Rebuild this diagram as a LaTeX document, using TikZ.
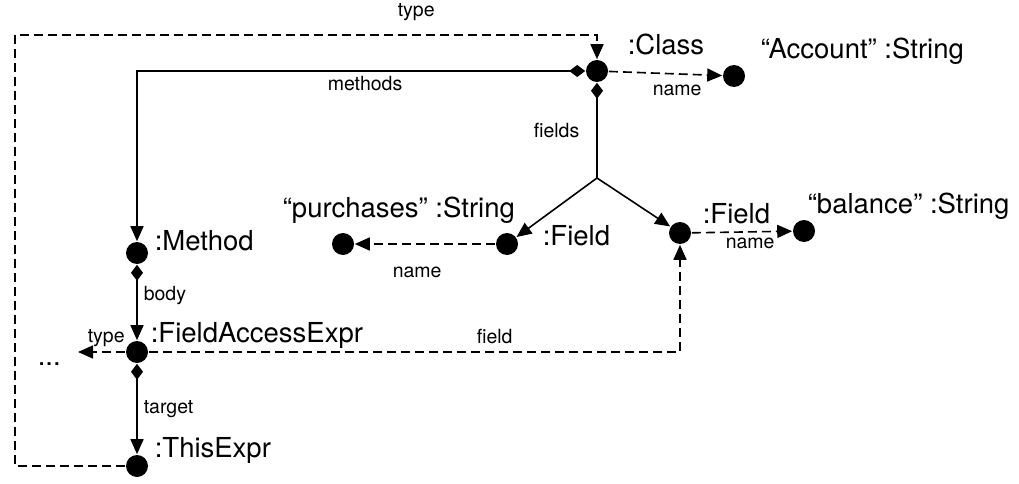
\documentclass[tikz,border=0pt]{standalone}
\usepackage{fontspec}
\setmainfont{TeX Gyre Heros}
\usetikzlibrary{arrows.meta,positioning}

\tikzset{
  dot/.style={circle, fill, inner sep=0pt, minimum size=22pt},
  obj/.style={inner sep=0pt, anchor=base west, font=\fontsize{27.5}{30}\selectfont},
  lbl/.style={inner sep=0pt, anchor=base west, font=\fontsize{19.5}{21}\selectfont},
  tip/.style={-{Triangle[length=15pt,width=13pt]}},
  comp/.style={{Diamond[length=16pt,width=12pt]}-{Triangle[length=15pt,width=13pt]}},
  dsh/.style={dash pattern=on 9pt off 5pt}
}

\begin{document}
\begin{tikzpicture}[x=1pt, y=-1pt, line width=1.6pt, node distance=10pt, on grid]
\useasboundingbox (0,0) rectangle (1019,484);

\node[dot] (cls) at (597,71) {};
\node[dot] (acc) at (734,76) {};
\node[dot] (fld1) at (507,244) {};
\node[dot, left=164pt of fld1] (str1) {};
\node[dot] (fld2) at (680,233) {};
\node[dot] (str2) at (804,231) {};
\node[dot] (meth) at (137,253) {};
\node[dot, below=99pt of meth] (fae) {};
\node[dot, below=114pt of fae] (this) {};
\coordinate (split) at (597,178);
\coordinate (bl) at (15,466);
\coordinate (tl) at (15,35);
\coordinate (tr) at (597,35);
\coordinate (etc) at (78,352);

% object names
\node[obj] at (627,55) {:Class};
\node[obj] at (760,59) {“Account” :String};
\node[obj] at (282,217) {“purchases” :String};
\node[obj] at (542,245) {:Field};
\node[obj] at (702,223) {:Field};
\node[obj] at (807,213) {“balance” :String};
\node[obj] at (154,250) {:Method};
\node[obj] at (150,342) {:FieldAccessExpr};
\node[obj] at (154,457) {:ThisExpr};
\node[obj] at (37,365) {...};

% links
\draw[comp] (cls) -| (meth);
\draw[{Diamond[length=16pt,width=12pt]}-] (cls) -- (split);
\draw[tip] (split) -- (fld1);
\draw[tip] (split) -- (fld2);
\draw[comp] (meth) -- (fae);
\draw[comp] (fae) -- (this);
\draw[dsh, tip] (cls) -- (acc);
\draw[dsh, tip] (fld1) -- (str1);
\draw[dsh, tip] (fld2) -- (str2);
\draw[dsh, tip] (fae) -| (fld2);
\draw[dsh, tip] (fae) -- (etc);
\draw[dsh, tip] (this) -- (bl) -- (tl) -- (tr) -- (cls);

% role names
\node[lbl] at (397,17) {type};
\node[lbl] at (327,91) {methods};
\node[lbl] at (652,96) {name};
\node[lbl] at (533,137) {fields};
\node[lbl] at (392,277) {name};
\node[lbl] at (725,248) {name};
\node[lbl] at (143,300) {body};
\node[lbl] at (87,342) {type};
\node[lbl] at (476,343) {field};
\node[lbl] at (143,413) {target};
\end{tikzpicture}
\end{document}
